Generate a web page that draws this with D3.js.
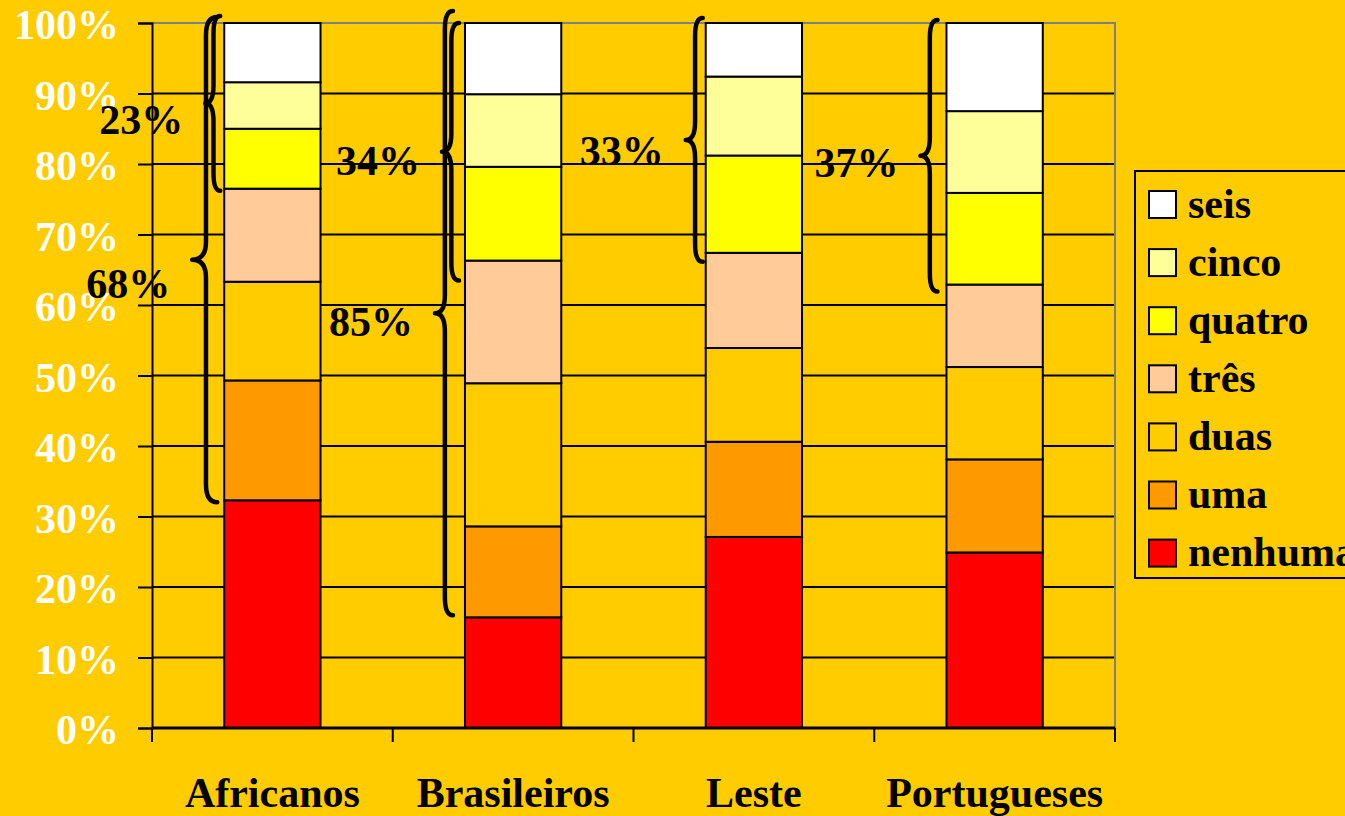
<!DOCTYPE html>
<html>
<head>
<meta charset="utf-8">
<script src="https://cdn.jsdelivr.net/npm/d3@7"></script>
<style>
  html, body { margin: 0; padding: 0; background: #FFCC00; overflow: hidden; }
  svg text { font-family: "Liberation Serif", "Times New Roman", serif; font-weight: bold; }
</style>
</head>
<body>
<div id="chart"></div>
<script>
// categories and series (percent of each group)
var categories = ['Africanos', 'Brasileiros', 'Leste', 'Portugueses'];
var seriesNames = ['nenhuma', 'uma', 'duas', 'três', 'quatro', 'cinco', 'seis'];
var nenhuma = [32.3, 15.7, 27.1, 24.9];
var uma     = [17.0, 12.9, 13.5, 13.2];
var duas    = [14.0, 20.3, 13.3, 13.1];
var tres    = [13.2, 17.4, 13.5, 11.7];
var quatro  = [8.5, 13.3, 13.8, 13.0];
var cinco   = [6.6, 10.3, 11.2, 11.6];
var seis    = [8.4, 10.1, 7.6, 12.5];
var yTicks = [0, 10, 20, 30, 40, 50, 60, 70, 80, 90, 100];

// brace annotations: label, group, series whose bottom the brace reaches down to
var braceLabels = ['23%', '68%', '34%', '85%', '33%', '37%'];
var braceCats   = ['Africanos', 'Africanos', 'Brasileiros', 'Brasileiros', 'Leste', 'Portugueses'];
var braceFrom   = ['quatro', 'uma', 'quatro', 'uma', 'quatro', 'quatro'];

var colors = {
  'nenhuma': '#FF0000', 'uma': '#FF9900', 'duas': '#FFCC00', 'três': '#FFCC99',
  'quatro': '#FFFF00', 'cinco': '#FFFF99', 'seis': '#FFFFFF'
};
var seriesValues = [nenhuma, uma, duas, tres, quatro, cinco, seis];

var rows = categories.map(function(c, i) {
  var r = { cat: c };
  seriesNames.forEach(function(s, j) { r[s] = seriesValues[j][i]; });
  return r;
});

var W = 1345, H = 816;
var plotL = 152, plotR = 1115, plotT = 23, plotB = 728;
var fs = 42;

var svg = d3.select('#chart').append('svg')
  .attr('width', W).attr('height', H);

var x = d3.scaleBand().domain(categories).range([plotL, plotR])
  .paddingInner(0.6).paddingOuter(0.3);
var xTick = d3.scaleBand().domain(categories).range([plotL, plotR]);
var y = d3.scaleLinear().domain([0, 100]).range([plotB, plotT]);

// gridlines
svg.append('g').selectAll('line').data(yTicks.slice(1, -1)).enter()
  .append('line')
  .attr('x1', plotL).attr('x2', plotR)
  .attr('y1', function(d) { return y(d); }).attr('y2', function(d) { return y(d); })
  .attr('stroke', '#000').attr('stroke-width', 2);

// plot border (top / right)
svg.append('path')
  .attr('d', 'M' + plotL + ',' + y(100) + 'H' + plotR + 'V' + y(0))
  .attr('fill', 'none').attr('stroke', '#808080').attr('stroke-width', 2);

// stacked bars
var stack = d3.stack().keys(seriesNames);
var layers = stack(rows);
svg.append('g').selectAll('g').data(layers).enter()
  .append('g')
  .attr('fill', function(d) { return colors[d.key]; })
  .selectAll('rect').data(function(d) { return d; }).enter()
  .append('rect')
  .attr('x', function(d) { return x(d.data.cat); })
  .attr('width', x.bandwidth())
  .attr('y', function(d) { return y(d[1]); })
  .attr('height', function(d) { return y(d[0]) - y(d[1]); })
  .attr('stroke', '#000').attr('stroke-width', 2);

// y axis
var yAxis = svg.append('g')
  .attr('transform', 'translate(' + plotL + ',0)')
  .call(d3.axisLeft(y).tickValues(yTicks).tickSize(14).tickPadding(19)
    .tickFormat(function(d) { return d + '%'; }));
yAxis.select('.domain').attr('stroke', '#000').attr('stroke-width', 2);
yAxis.selectAll('.tick line').attr('stroke', '#000').attr('stroke-width', 2);
yAxis.selectAll('.tick text')
  .attr('fill', '#fff').attr('font-size', fs).attr('dy', '0.37em')
  .style('font-family', '"Liberation Serif", serif').style('font-weight', 'bold');

// x axis
var xAxis = svg.append('g')
  .attr('transform', 'translate(0,' + plotB + ')')
  .call(d3.axisBottom(xTick).tickSize(0).tickPadding(49));
xAxis.select('.domain').remove();
xAxis.selectAll('.tick text')
  .attr('fill', '#000').attr('font-size', fs)
  .style('font-family', '"Liberation Serif", serif').style('font-weight', 'bold');
svg.append('line')
  .attr('x1', plotL).attr('x2', plotR).attr('y1', plotB).attr('y2', plotB)
  .attr('stroke', '#000').attr('stroke-width', 3);
var bounds = categories.map(function(c) { return xTick(c); }).concat([plotR]);
svg.append('g').selectAll('line').data(bounds).enter()
  .append('line')
  .attr('x1', function(d) { return d; }).attr('x2', function(d) { return d; })
  .attr('y1', plotB).attr('y2', plotB + 14)
  .attr('stroke', '#000').attr('stroke-width', 2);

// braces
var braceDx    = [-4, -7, -6, -12, -3, -9];
var braceDepth = [15, 25, 17, 18, 17, 17];
var braceTopPad = [7, 6, 0, 12, 5, 3];
var braceBotPad = [2, 2, 20, -2, 9, 7];
var labelDy = [31, 38, 23, 23, 25, 21];

function bracePath(xr, y0, y1, depth) {
  var xm = xr - depth * 0.45, xt = xr - depth, ym = (y0 + y1) / 2;
  var q = Math.min(18, (y1 - y0) / 8);
  return 'M' + xr + ',' + y0 +
    'Q' + xm + ',' + y0 + ' ' + xm + ',' + (y0 + q) +
    'L' + xm + ',' + (ym - q) +
    'Q' + xm + ',' + ym + ' ' + xt + ',' + ym +
    'Q' + xm + ',' + ym + ' ' + xm + ',' + (ym + q) +
    'L' + xm + ',' + (y1 - q) +
    'Q' + xm + ',' + y1 + ' ' + xr + ',' + y1;
}

var segByCat = {};
layers.forEach(function(l) {
  l.forEach(function(d) {
    segByCat[d.data.cat] = segByCat[d.data.cat] || {};
    segByCat[d.data.cat][l.key] = d;
  });
});

braceLabels.forEach(function(lab, i) {
  var cat = braceCats[i];
  var seg = segByCat[cat][braceFrom[i]];
  var xr = x(cat) + braceDx[i];
  var y0 = y(100) - braceTopPad[i];
  var y1 = y(seg[0]) + braceBotPad[i];
  svg.append('path')
    .attr('d', bracePath(xr, y0, y1, braceDepth[i]))
    .attr('fill', 'none').attr('stroke', '#000').attr('stroke-width', 4.5)
    .attr('stroke-linecap', 'round').attr('stroke-linejoin', 'round');
  svg.append('text')
    .attr('x', xr - braceDepth[i] - 22)
    .attr('y', (y0 + y1) / 2 + labelDy[i])
    .attr('text-anchor', 'end')
    .attr('font-size', fs).attr('fill', '#000')
    .text(lab);
});

// legend
var legend = svg.append('g');
legend.append('rect')
  .attr('x', 1135).attr('y', 171).attr('width', 260).attr('height', 407)
  .attr('fill', 'none').attr('stroke', '#000').attr('stroke-width', 2);
var legendOrder = seriesNames.slice().reverse();
var li = legend.selectAll('g.item').data(legendOrder).enter()
  .append('g').attr('class', 'item')
  .attr('transform', function(d, i) { return 'translate(1149,' + (204.5 + i * 58.1) + ')'; });
li.append('rect')
  .attr('x', 0).attr('y', -13.5).attr('width', 27).attr('height', 27)
  .attr('fill', function(d) { return colors[d]; })
  .attr('stroke', '#000').attr('stroke-width', 2);
li.append('text')
  .attr('x', 39).attr('y', 13)
  .attr('font-size', fs).attr('fill', '#000')
  .text(function(d) { return d; });
</script>
</body>
</html>
